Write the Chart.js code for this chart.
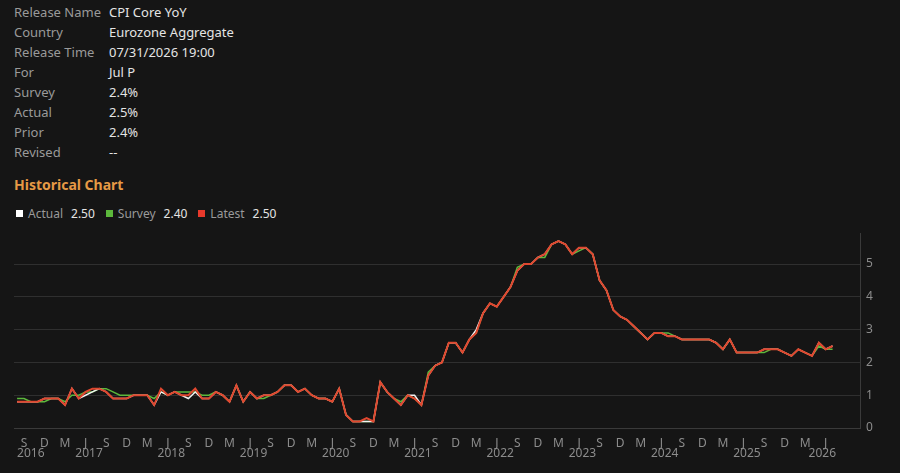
<!DOCTYPE html>
<html lang="en">
<head>
    <meta charset="UTF-8">
    <title>CPI Core YoY</title>
    <script src="https://cdn.jsdelivr.net/npm/chart.js"></script>
    <style>
        body {
            margin: 0;
            background: #151515;
            width: 900px;
            height: 473px;
            overflow: hidden;
            font-family: "Noto Sans", sans-serif;
        }
        #info { position: absolute; left: 14px; top: 2px; }
        .row { height: 20px; line-height: 20px; font-size: 13px; }
        .row .k { display: inline-block; width: 95px; color: #9a9a9a; }
        .row .v { color: #e4e4e4; }
        #title { position: absolute; left: 14px; top: 175px; color: #e69a45; font-weight: bold; font-size: 14px; }
        #legend { position: absolute; left: 16px; top: 205px; font-size: 12px; color: #9a9a9a; white-space: nowrap; }
        #legend .sw { display: inline-block; width: 7px; height: 7px; margin-right: 5px; vertical-align: 1px; }
        #legend .num { color: #e4e4e4; margin-left: 8px; margin-right: 11px; }
        #wrap { position: absolute; left: 0; top: 220px; width: 900px; height: 253px; }
    </style>
</head>
<body>
    <div id="info">
        <div class="row"><span class="k">Release Name</span><span class="v">CPI Core YoY</span></div>
        <div class="row"><span class="k">Country</span><span class="v">Eurozone Aggregate</span></div>
        <div class="row"><span class="k">Release Time</span><span class="v">07/31/2026 19:00</span></div>
        <div class="row"><span class="k">For</span><span class="v">Jul P</span></div>
        <div class="row"><span class="k">Survey</span><span class="v">2.4%</span></div>
        <div class="row"><span class="k">Actual</span><span class="v">2.5%</span></div>
        <div class="row"><span class="k">Prior</span><span class="v">2.4%</span></div>
        <div class="row"><span class="k">Revised</span><span class="v">--</span></div>
    </div>
    <div id="title">Historical Chart</div>
    <div id="legend"></div>
    <div id="wrap"><canvas id="chart"></canvas></div>

    <script>
        // monthly values, Aug 2016 .. Jul 2026 (one row = Aug..Jul)
        const latest = [
            0.8, 0.8, 0.8, 0.8, 0.9, 0.9, 0.9, 0.7, 1.2, 0.9, 1.1, 1.2,
            1.2, 1.1, 0.9, 0.9, 0.9, 1.0, 1.0, 1.0, 0.7, 1.2, 1.0, 1.1,
            1.0, 1.0, 1.2, 0.9, 0.9, 1.1, 1.0, 0.8, 1.3, 0.8, 1.1, 0.9,
            1.0, 1.0, 1.1, 1.3, 1.3, 1.1, 1.2, 1.0, 0.9, 0.9, 0.8, 1.2,
            0.4, 0.2, 0.2, 0.3, 0.2, 1.4, 1.1, 0.9, 0.7, 1.0, 0.9, 0.7,
            1.6, 1.9, 2.0, 2.6, 2.6, 2.3, 2.7, 2.9, 3.5, 3.8, 3.7, 4.0,
            4.3, 4.8, 5.0, 5.0, 5.2, 5.3, 5.6, 5.7, 5.6, 5.3, 5.5, 5.5,
            5.3, 4.5, 4.2, 3.6, 3.4, 3.3, 3.1, 2.9, 2.7, 2.9, 2.9, 2.8,
            2.8, 2.7, 2.7, 2.7, 2.7, 2.7, 2.6, 2.4, 2.7, 2.3, 2.3, 2.3,
            2.3, 2.4, 2.4, 2.4, 2.3, 2.2, 2.4, 2.3, 2.2, 2.6, 2.4, 2.5
        ];
        const actual = [
            0.8, 0.8, 0.8, 0.8, 0.9, 0.9, 0.9, 0.7, 1.2, 0.9, 1.0, 1.1,
            1.2, 1.1, 0.9, 0.9, 0.9, 1.0, 1.0, 1.0, 0.7, 1.1, 1.0, 1.1,
            1.0, 0.9, 1.1, 0.9, 0.9, 1.1, 1.0, 0.8, 1.3, 0.8, 1.1, 0.9,
            1.0, 1.0, 1.1, 1.3, 1.3, 1.1, 1.2, 1.0, 0.9, 0.9, 0.8, 1.2,
            0.4, 0.2, 0.2, 0.2, 0.2, 1.4, 1.1, 0.9, 0.7, 1.0, 1.0, 0.7,
            1.6, 1.9, 2.0, 2.6, 2.6, 2.3, 2.7, 3.0, 3.5, 3.8, 3.7, 4.0,
            4.3, 4.8, 5.0, 5.0, 5.2, 5.3, 5.6, 5.7, 5.6, 5.3, 5.5, 5.5,
            5.3, 4.5, 4.2, 3.6, 3.4, 3.3, 3.1, 2.9, 2.7, 2.9, 2.9, 2.8,
            2.8, 2.7, 2.7, 2.7, 2.7, 2.7, 2.6, 2.4, 2.7, 2.3, 2.3, 2.3,
            2.3, 2.4, 2.4, 2.4, 2.3, 2.2, 2.4, 2.3, 2.2, 2.6, 2.4, 2.5
        ];
        const survey = [
            0.9, 0.9, 0.8, 0.8, 0.8, 0.9, 0.9, 0.8, 1.0, 1.0, 1.1, 1.1,
            1.2, 1.2, 1.1, 1.0, 1.0, 1.0, 1.0, 1.0, 0.9, 1.1, 1.0, 1.1,
            1.1, 1.1, 1.1, 1.0, 1.0, 1.1, 1.0, 0.8, 1.3, 0.8, 1.1, 0.9,
            0.9, 1.0, 1.1, 1.3, 1.3, 1.1, 1.2, 1.0, 0.9, 0.9, 0.8, 1.2,
            0.4, 0.2, 0.2, 0.2, 0.2, 1.4, 1.1, 0.9, 0.8, 1.0, 0.9, 0.7,
            1.7, 1.9, 2.0, 2.6, 2.6, 2.3, 2.7, 2.9, 3.5, 3.8, 3.7, 4.0,
            4.3, 4.9, 5.0, 5.0, 5.2, 5.2, 5.6, 5.7, 5.6, 5.3, 5.4, 5.5,
            5.3, 4.5, 4.2, 3.6, 3.4, 3.3, 3.1, 2.9, 2.7, 2.9, 2.9, 2.9,
            2.8, 2.7, 2.7, 2.7, 2.7, 2.7, 2.6, 2.4, 2.7, 2.3, 2.3, 2.3,
            2.3, 2.3, 2.4, 2.4, 2.3, 2.2, 2.4, 2.3, 2.2, 2.5, 2.4, 2.4
        ];

        const startYear = 2016;
        const startMonth = 7;              // Aug (0 = Jan)
        const years = [2016, 2017, 2018, 2019, 2020, 2021, 2022, 2023, 2024, 2025, 2026];
        const quarterLetters = { 8: 'S', 11: 'D', 2: 'M', 5: 'J' };
        const yTicks = [0, 1, 2, 3, 4, 5];

        const legendItems = [
            { name: 'Actual', color: '#ffffff', value: '2.50' },
            { name: 'Survey', color: '#5cb83c', value: '2.40' },
            { name: 'Latest', color: '#e8392b', value: '2.50' }
        ];

        document.getElementById('legend').innerHTML = legendItems.map(it =>
            `<span class="sw" style="background:${it.color}"></span>${it.name}<span class="num">${it.value}</span>`
        ).join('');

        const xMin = -0.45, xMax = 123;
        const monthOf = i => (startMonth + i) % 12;

        // tick positions: every Sep / Dec / Mar / Jun inside the data
        const xTicks = [];
        for (let i = 0; i < latest.length; i++) {
            if (quarterLetters[monthOf(i)]) xTicks.push(i);
        }

        const toPoints = arr => arr.map((v, i) => ({ x: i, y: v }));

        const yearLabels = {
            id: 'yearLabels',
            afterDraw(chart) {
                const { ctx, chartArea, scales } = chart;
                ctx.save();
                ctx.fillStyle = '#8c8c8c';
                ctx.font = '12px "Noto Sans"';
                ctx.textAlign = 'center';
                ctx.textBaseline = 'middle';
                years.forEach(y => {
                    const first = (y - startYear) * 12 - startMonth;
                    const lo = Math.max(first, 0);
                    const hi = Math.min(first + 11, xMax - 1);
                    const x = scales.x.getPixelForValue((lo + hi) / 2);
                    ctx.fillText(String(y), x, chartArea.bottom + 26);
                });
                ctx.restore();
            }
        };

        Chart.defaults.font.family = '"Noto Sans", sans-serif';

        new Chart(document.getElementById('chart').getContext('2d'), {
            type: 'line',
            data: {
                datasets: [
                    { label: 'Latest', data: toPoints(latest), borderColor: '#e0472f', borderWidth: 2, order: 0 },
                    { label: 'Actual', data: toPoints(actual), borderColor: '#f2f2f2', borderWidth: 1.5, order: 1 },
                    { label: 'Survey', data: toPoints(survey), borderColor: '#5cb83c', borderWidth: 1.5, order: 2 }
                ]
            },
            options: {
                responsive: true,
                maintainAspectRatio: false,
                animation: false,
                layout: { padding: { top: 10, left: 14, right: 0, bottom: 0 } },
                elements: { point: { radius: 0 }, line: { tension: 0 } },
                plugins: { legend: { display: false }, tooltip: { enabled: false } },
                scales: {
                    x: {
                        type: 'linear',
                        min: xMin,
                        max: xMax,
                        grid: { display: false },
                        border: { display: true, color: '#3a3a3a' },
                        afterBuildTicks: s => { s.ticks = xTicks.map(v => ({ value: v })); },
                        afterFit: s => { s.height = 45; },
                        ticks: {
                            color: '#8c8c8c',
                            font: { size: 12 },
                            padding: 0,
                            autoSkip: false,
                            maxRotation: 0,
                            callback: v => quarterLetters[monthOf(v)] || ''
                        }
                    },
                    y: {
                        position: 'right',
                        min: 0,
                        max: 5.94,
                        grid: { color: '#2f2f2f', drawTicks: false },
                        border: { display: true, color: '#3a3a3a' },
                        afterBuildTicks: s => { s.ticks = yTicks.map(v => ({ value: v })); },
                        afterFit: s => { s.width = 40; },
                        ticks: { color: '#8c8c8c', font: { size: 12 }, padding: 6 }
                    }
                }
            },
            plugins: [yearLabels]
        });
    </script>
</body>
</html>
